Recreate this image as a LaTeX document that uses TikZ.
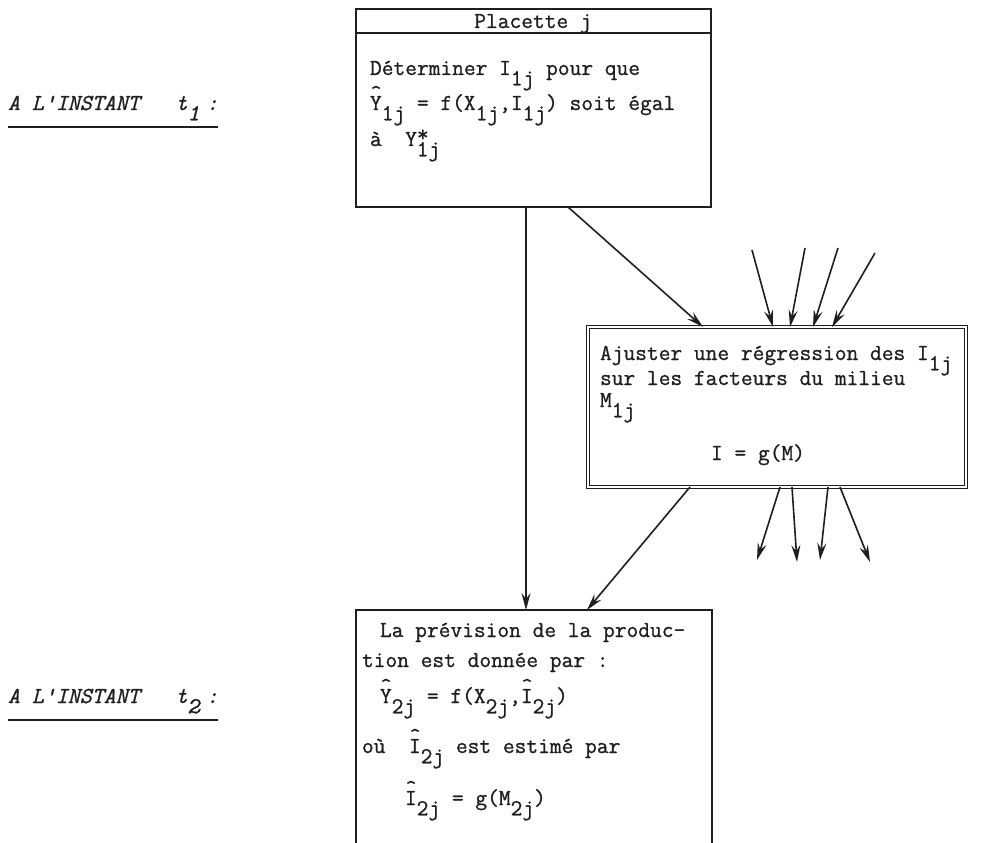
\documentclass[tikz,border=0pt]{standalone}
\usepackage{fontspec}
\setmonofont{Latin Modern Mono}[FakeBold=0.9]
\usetikzlibrary{arrows.meta,calc}
\definecolor{ink}{gray}{0.12}
\newcommand{\lo}[1]{\raisebox{-0.45em}{#1}}
\newcommand{\up}[1]{\raisebox{0.2em}{#1}}
\newcommand{\hatop}[1]{\makebox[0pt][l]{\makebox[0.525em][c]{\raisebox{11pt}{\fontsize{21}{21}\selectfont\char"5E}}}#1}
\begin{document}
\begin{tikzpicture}[x=1pt,y=-1pt,
  font=\ttfamily\fontsize{22.8}{24}\selectfont,
  frame/.style={draw=ink, line width=1.7pt, inner sep=0pt, outer sep=0pt, anchor=north west},
  dframe/.style={frame, double=white, double distance=2.5pt, line width=1.1pt},
  arr/.style={draw=ink, line width=1.6pt, -{Stealth[length=17pt,width=9pt,inset=6pt]}},
  txt/.style={inner sep=0pt, outer sep=0pt, anchor=base west, text=ink},
  lbl/.style={txt, font=\ttfamily\itshape\fontsize{22.8}{24}\selectfont}]
\useasboundingbox (0,0) rectangle (986,843);
\clip (0,0) rectangle (986,843);
\fill[white] (0,0) rectangle (986,843);

% boxes
\node[frame, minimum width=355pt, minimum height=198pt] (top) at (356,9) {};
\node[dframe, minimum width=378pt, minimum height=160pt] (reg) at (588,327) {};
\node[frame, minimum width=356pt, minimum height=280pt] (bot) at (356,610) {};

% header of top box
\coordinate (hl) at ($(top.north west)+(0,24)$);
\coordinate (hr) at ($(top.north east)+(0,24)$);
\draw[ink, line width=1.7pt] (hl) -- (hr);
\node[txt, anchor=base] (plac) at (533,28) {Placette j};

% top box text
\node[txt] (t1) at (370,75) {Déterminer I\lo{1j} pour que};
\node[txt] (t2) at (370,110) {\hatop{Y}\lo{1j} = f(X\lo{1j},I\lo{1j}) soit égal};
\node[txt] (t3) at (370,146) {à~~Y\up{*}\hspace{-0.525em}\lo{1j}};

% labels
\node[lbl] (l1) at (8,110) {A L'INSTANT~~~t\lo{1}\hspace{0.3em}:};
\draw[ink, line width=1.7pt] ($(l1.base west)+(0,17)$) -- ($(l1.base east)+(0,17)$);
\node[lbl] (l2) at (8,703) {A L'INSTANT~~~t\lo{2}\hspace{0.3em}:};
\draw[ink, line width=1.7pt] ($(l2.base west)+(0,17)$) -- ($(l2.base east)+(0,17)$);

% regression box text
\node[txt] (r1) at (600,360) {Ajuster une régression des I\lo{1j}};
\node[txt] (r2) at (600,385) {sur les facteurs du milieu};
\node[txt] (r3) at (600,407) {M\lo{1j}};
\node[txt, anchor=base] (r4) at (758,460) {I = g(M)};

% bottom box text
\node[txt] (b1) at (380,637) {La prévision de la produc-};
\node[txt] (b2) at (362,667) {tion est donnée par :};
\node[txt] (b3) at (380,703) {\hatop{Y}\lo{2j} = f(X\lo{2j},\hatop{I}\lo{2j})};
\node[txt] (b4) at (362,753) {où~~\hatop{I}\lo{2j} est estimé par};
\node[txt] (b5) at (405,805) {\hatop{I}\lo{2j} = g(M\lo{2j})};

% connectors
\draw[arr] ($(top.south west)+(170,0)$) -- ($(bot.north west)+(170,0)$);
\draw[arr] ($(top.south west)+(212,0)$) -- ($(reg.north west)+(115,0)$);
\draw[arr] ($(reg.south west)+(102,0)$) -- ($(bot.north west)+(231,0)$);

% incoming factors
\coordinate (f1) at (752,250);
\coordinate (f2) at (805,248);
\coordinate (f3) at (838,248);
\coordinate (f4) at (875,253);
\draw[arr] (f1) -- ($(reg.north west)+(185,0)$);
\draw[arr] (f2) -- ($(reg.north west)+(202,0)$);
\draw[arr] (f3) -- ($(reg.north west)+(225,0)$);
\draw[arr] (f4) -- ($(reg.north west)+(244,0)$);

% outgoing
\coordinate (o1) at (757,560);
\coordinate (o2) at (797,562);
\coordinate (o3) at (820,560);
\coordinate (o4) at (870,562);
\draw[arr] ($(reg.south west)+(192,0)$) -- (o1);
\draw[arr] ($(reg.south west)+(204,0)$) -- (o2);
\draw[arr] ($(reg.south west)+(240,0)$) -- (o3);
\draw[arr] ($(reg.south west)+(252,0)$) -- (o4);
\end{tikzpicture}
\end{document}
